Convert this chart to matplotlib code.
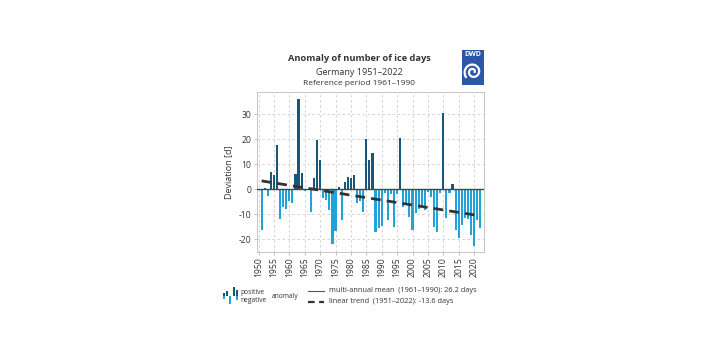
import numpy as np
import matplotlib
matplotlib.use("Agg")
import matplotlib.pyplot as plt
from matplotlib.patches import Rectangle

plt.rcParams['font.family'] = ['Open Sans', 'DejaVu Sans']

years = list(range(1951, 2023))
anomaly = [
    -16.5, 0.3, -2.8, 7.0, 5.7, 17.6, -12.0, -7.3, -7.8, -4.8,
    -5.4, 6.0, 36.2, 6.5, -0.9, 0.2, -9.0, 4.5, 19.8, 11.6,
    -3.4, -4.2, -8.2, -22.0, -16.6, 0.8, -12.4, 2.8, 4.7, 4.4,
    5.7, -5.7, -4.6, -9.3, 20.0, 11.6, 14.3, -17.3, -15.5, -14.8,
    -1.5, -12.4, -1.8, -15.0, -2.0, 20.4, -7.0, -6.4, -11.3, -16.4,
    -9.5, -8.1, -6.8, -8.4, -1.0, -3.3, -15.0, -17.0, -1.7, 30.6,
    -11.7, -1.5, 2.1, -16.5, -19.5, -14.5, -11.5, -12.0, -18.5, -22.7,
    -12.5, -15.7,
]
xticks = list(range(1950, 2021, 5))
yticks = [-20, -10, 0, 10, 20, 30]

pos_col = '#17587a'
neg_col = '#21a2d9'

fig = plt.figure(figsize=(7.07, 3.54), dpi=100)
ax = fig.add_axes([0.3635, 0.288, 0.321, 0.452])

yrs = np.array(years)
vals = np.array(anomaly)
cols = [pos_col if v > 0 else neg_col for v in vals]
ax.bar(yrs, vals, width=0.7, color=cols, zorder=3)

ax.axhline(0, color='#444444', lw=1.0, zorder=4)
b, a = np.polyfit(yrs, vals, 1)
ax.plot([1951, 2022], [a + b * 1951, a + b * 2022], color='#333333',
        lw=2.0, ls=(0, (3.5, 2.2)), zorder=5)

ax.set_xlim(1949.5, 2023.2)
ax.set_ylim(-25.2, 38.8)
ax.set_xticks(xticks)
ax.set_xticklabels([str(x) for x in xticks], rotation=90, fontsize=6.2, color='#333333')
ax.set_yticks(yticks)
ax.set_yticklabels([str(y) for y in yticks], fontsize=6.2, color='#333333')
ax.set_ylabel('Deviation [d]', fontsize=6.5, color='#333333', labelpad=4)
ax.grid(True, ls=(0, (3, 3)), color='#cccccc', lw=0.6, zorder=0)
ax.tick_params(length=2, width=0.5, color='#aaaaaa', pad=2)
for s in ax.spines.values():
    s.set_color('#bbbbbb')
    s.set_linewidth(0.6)

fig.text(0.508, 0.836, 'Anomaly of number of ice days', ha='center', va='center',
         fontsize=6.7, fontweight='bold', color='#333333')
fig.text(0.508, 0.796, 'Germany 1951\u20132022', ha='center', va='center',
         fontsize=6.5, color='#333333')
fig.text(0.508, 0.765, 'Reference period 1961\u20131990', ha='center', va='center',
         fontsize=6.0, color='#333333')

# DWD logo
lg = fig.add_axes([0.6535, 0.76, 0.031, 0.099])
lg.set_xlim(0, 1)
lg.set_ylim(0, 1.6)
lg.axis('off')
lg.add_patch(Rectangle((0, 0), 1, 1.6, color='#2c56a6'))
lg.text(0.5, 1.38, 'DWD', ha='center', va='center', color='white',
        fontsize=5, fontweight='bold')
t = np.linspace(0, 3.2 * np.pi, 200)
r = 0.08 + 0.1 * t / np.pi
lg.plot(0.5 + r * np.cos(t), 0.6 + r * np.sin(t), color='white', lw=1.6)

# legend
leg = fig.add_axes([0.315, 0.14, 0.022, 0.05])
ic_x = [0, 1, 2, 3, 4]
ic_pos = [0.6, 1.2, 0, 2.0, 1.4]
ic_neg = [-0.7, 0, -2.0, 0, -1.0]
leg.bar(ic_x, ic_pos, width=0.65, color=pos_col)
leg.bar(ic_x, ic_neg, width=0.65, color=neg_col)
leg.set_ylim(-2.1, 2.1)
leg.set_xlim(-0.5, 4.5)
leg.axis('off')
fig.text(0.340, 0.174, 'positive', fontsize=4.8, color='#333333', va='center')
fig.text(0.340, 0.152, 'negative', fontsize=4.8, color='#333333', va='center')
fig.text(0.385, 0.162, 'anomaly', fontsize=4.8, color='#333333', va='center')

fig.lines.append(plt.Line2D([0.436, 0.458], [0.178, 0.178], transform=fig.transFigure,
                            color='#555555', lw=0.8))
fig.lines.append(plt.Line2D([0.436, 0.458], [0.147, 0.147], transform=fig.transFigure,
                            color='#333333', lw=1.6, ls=(0, (3, 2))))
fig.text(0.465, 0.178, 'multi-annual mean  (1961\u20131990): 26.2 days', fontsize=5.3,
         color='#333333', va='center')
fig.text(0.465, 0.147, 'linear trend  (1951\u20132022): -13.6 days', fontsize=5.3,
         color='#333333', va='center')

fig.savefig('out.png', dpi=100)
